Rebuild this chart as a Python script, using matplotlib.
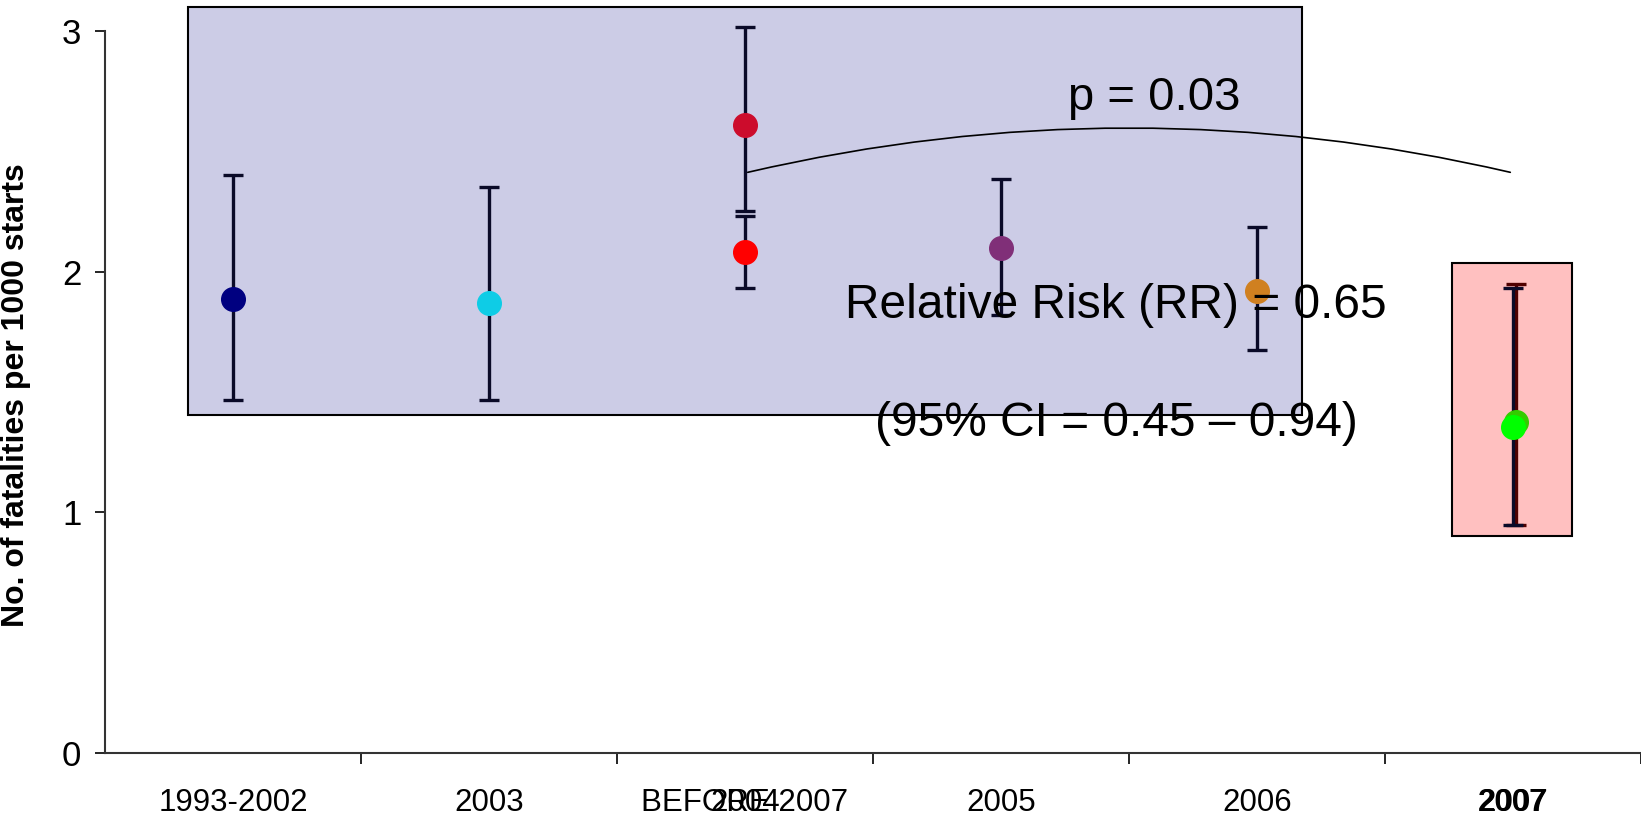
import matplotlib
matplotlib.use("Agg")
import matplotlib.pyplot as plt
from matplotlib.patches import Rectangle, FancyArrowPatch

plt.rcParams['font.family'] = ['Liberation Sans', 'DejaVu Sans']

# yearly rates (main series)
years = ["1993-2002", "2003", "2004", "2005", "2006", "2007"]
rate = [1.885, 1.869, 2.081, 2.100, 1.920, 1.355]
low = [1.467, 1.467, 1.931, 1.82, 1.674, 0.949]
high = [2.40, 2.353, 2.232, 2.384, 2.185, 1.931]
dot_colors = ["#000080", "#0ECCE6", "#FF0000", "#802F78", "#D08020", "#00FF00"]

# before / after comparison (overlaid series)
groups = ["BEFORE 2007", "2007"]
group_pos = [2, 5]
rate2 = [2.610, 1.376]
low2 = [2.250, 0.949]
high2 = [3.015, 1.947]
dot_colors2 = ["#CC0C2C", "#33CC00"]
bar_colors2 = ["#0A0A28", "#500000"]

fig = plt.figure(figsize=(16.41, 8.19), dpi=100)
ax = fig.add_axes([0.064, 0.0806, 0.936, 0.8816])

x = list(range(len(years)))

# shaded boxes
ax.add_patch(Rectangle((-0.175, 1.404), 4.35, 1.696, facecolor="#CCCCE6",
                       edgecolor="black", lw=1.5, clip_on=False, zorder=1))
ax.add_patch(Rectangle((4.762, 0.901), 0.47, 1.134, facecolor="#FFC0C0",
                       edgecolor="black", lw=1.5, clip_on=False, zorder=1))

for i in x:
    ax.errorbar(x[i], rate[i], yerr=[[rate[i] - low[i]], [high[i] - rate[i]]],
                fmt="o", ms=17, color=dot_colors[i], ecolor="#0A0A28",
                elinewidth=2.4, capsize=7, capthick=2.4, zorder=3, clip_on=False)

for j in range(len(groups)):
    ax.errorbar(group_pos[j] + 0.012 * j, rate2[j],
                yerr=[[rate2[j] - low2[j]], [high2[j] - rate2[j]]],
                fmt="o", ms=17, color=dot_colors2[j], ecolor=bar_colors2[j],
                elinewidth=2.4, capsize=7, capthick=2.4, zorder=2.9, clip_on=False)

# bracket between before and 2007
arc = FancyArrowPatch((2.0, 2.41), (5.0, 2.41), arrowstyle="-",
                      connectionstyle="arc3,rad=-0.117", color="black",
                      lw=1.2, zorder=2.5)
ax.add_patch(arc)

ax.text(3.6, 2.72, "p = 0.03", fontsize=34, ha="center", va="center", zorder=5)
ax.text(3.45, 1.86, "Relative Risk (RR) = 0.65", fontsize=34.5, ha="center",
        va="center", zorder=5)
ax.text(3.45, 1.37, "(95% CI = 0.45 \u2013 0.94)", fontsize=34.5, ha="center",
        va="center", zorder=5)

ax.set_xlim(-0.5, 5.477)
ax.set_ylim(0, 3)
ax.set_yticks([0, 1, 2, 3])
ax.set_xticks(x)
ax.set_xticklabels(years, fontsize=22.5)
ax.set_xticks([k - 0.5 for k in range(1, 7)], minor=True)
ax.tick_params(axis="x", which="major", length=0, pad=25)
ax.tick_params(axis="x", which="minor", length=8, width=1.2, direction="out")
ax.tick_params(axis="y", labelsize=25, length=7, width=1.2, pad=10)

# labels of the overlaid chart
ax.text(group_pos[0], -0.0693, groups[0], transform=ax.get_xaxis_transform(),
        fontsize=22.5, ha="center", va="center")
ax.text(group_pos[1], -0.0693, groups[1], transform=ax.get_xaxis_transform(),
        fontsize=22.5, ha="center", va="center", fontweight="bold")

ax.set_ylabel("No. of fatalities per 1000 starts", fontsize=23, fontweight="bold")
ax.yaxis.set_label_coords(-0.048, 0.496)

for s in ["top", "right"]:
    ax.spines[s].set_visible(False)
for s in ["left", "bottom"]:
    ax.spines[s].set_color("#333333")
    ax.spines[s].set_linewidth(1.5)

fig.savefig("out.png", dpi=100)
